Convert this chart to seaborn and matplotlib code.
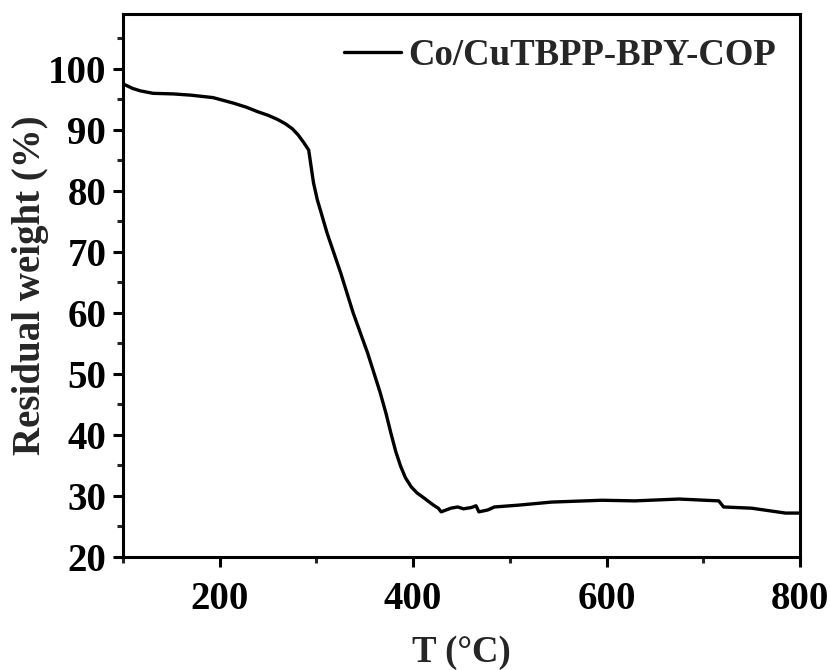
import matplotlib
matplotlib.use("Agg")
import matplotlib.pyplot as plt
import seaborn as sns
import pandas as pd
from matplotlib.ticker import MultipleLocator

temperature = [100, 102, 110, 118, 131, 152, 170, 193, 214, 228, 239, 250, 260, 268, 275,
               281, 287, 292, 297, 301, 304, 311, 325, 338, 353, 366, 372, 377, 382, 387,
               392, 398, 404, 411, 416, 421, 426, 429, 434, 439, 446, 452, 460, 465, 468,
               477, 484, 509, 543, 595, 629, 675, 702, 716, 721, 750, 785, 800]
weight = [97.6, 97.4, 96.8, 96.4, 96.0, 95.9, 95.7, 95.3, 94.4, 93.7, 93.0, 92.4, 91.7, 91.0,
          90.2, 89.2, 87.9, 86.7, 81.3, 78.5, 76.9, 73.1, 66.6, 60.0, 53.4, 46.9, 43.5, 40.3,
          37.3, 34.9, 33.0, 31.5, 30.5, 29.7, 29.1, 28.5, 28.0, 27.4, 27.7, 28.0, 28.2, 27.9,
          28.1, 28.4, 27.4, 27.7, 28.2, 28.5, 29.0, 29.3, 29.2, 29.5, 29.3, 29.2, 28.2, 28.0,
          27.2, 27.2]
series_name = "Co/CuTBPP-BPY-COP"
x_label = "T (°C)"
y_label = "Residual weight (%)"

sns.set_style("ticks")
plt.rcParams['font.family'] = ['Liberation Serif', 'DejaVu Serif']
plt.rcParams['font.weight'] = 'bold'
plt.rcParams['axes.labelweight'] = 'bold'

df = pd.DataFrame({"T": temperature, "W": weight})

fig = plt.figure(figsize=(8.3, 6.7), dpi=100)
ax = fig.add_axes([123/830, 1 - 557/670, (800-123)/830, (557-14)/670])

sns.lineplot(data=df, x="T", y="W", ax=ax, color="black", linewidth=2.4,
             label=series_name, sort=False)

ax.set_xlim(100, 800)
ax.set_ylim(20, 109)
ax.xaxis.set_major_locator(MultipleLocator(200))
ax.xaxis.set_minor_locator(MultipleLocator(100))
ax.yaxis.set_major_locator(MultipleLocator(10))
ax.yaxis.set_minor_locator(MultipleLocator(5))

for s in ax.spines.values():
    s.set_linewidth(2.2)
    s.set_color("black")
    s.set_visible(True)

ax.tick_params(axis='both', which='major', direction='out', length=7, width=2.2,
               labelsize=28, colors='black')
ax.tick_params(axis='x', which='major', pad=10)
ax.tick_params(axis='y', which='major', pad=5)
ax.tick_params(axis='both', which='minor', direction='out', length=4, width=2.2)
ax.tick_params(top=False, right=False, which='both')
for lab in ax.get_xticklabels() + ax.get_yticklabels():
    lab.set_fontweight('bold')

ax.set_xlabel(x_label, fontsize=26.5, fontweight='bold')
ax.set_ylabel(y_label, fontsize=28, fontweight='bold')
ax.xaxis.set_label_coords(0.5, -0.175)
ax.xaxis.label.set_va('center')
ax.yaxis.set_label_coords(-0.137, 0.501)
ax.yaxis.label.set_va('center')

leg = ax.legend(loc='upper right', frameon=False, handlelength=1.55,
                handletextpad=0.2, borderaxespad=0.25,
                prop={'weight': 'bold', 'size': 26.5})

fig.savefig("out.png", dpi=100)
